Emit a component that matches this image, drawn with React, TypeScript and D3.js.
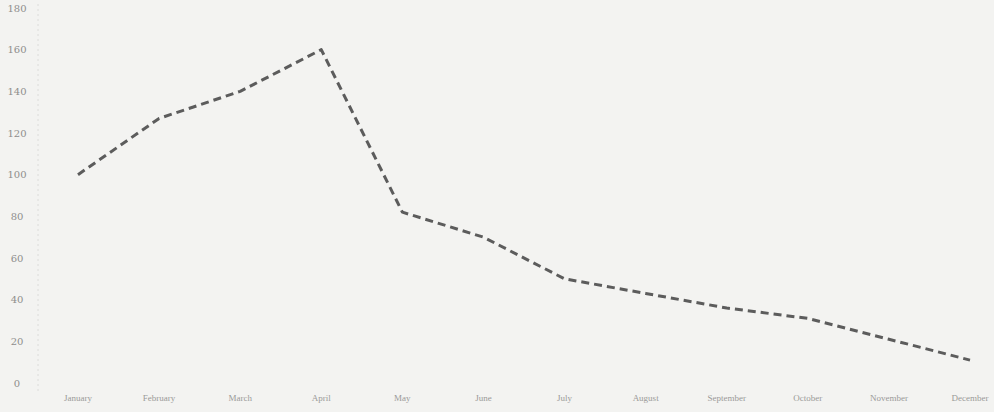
import { useEffect, useRef } from 'react';
import * as d3 from 'd3';

const months = [
  'January', 'February', 'March', 'April', 'May', 'June',
  'July', 'August', 'September', 'October', 'November', 'December',
];
const values = [100, 127, 140, 160, 82, 70, 50, 43, 36, 31, 21, 11];
const yTicks = [0, 20, 40, 60, 80, 100, 120, 140, 160, 180];

const width = 994;
const height = 412;

export default function App() {
  const svgRef = useRef<SVGSVGElement>(null);

  useEffect(() => {
    if (!svgRef.current) return;
    const svg = d3.select(svgRef.current);
    svg.selectAll('*').remove();

    const x = d3.scalePoint<string>().domain(months).range([78, 970]);
    const y = d3.scaleLinear().domain([0, 180]).range([383, 8]);

    // paper background
    svg.append('rect')
      .attr('width', width)
      .attr('height', height)
      .attr('fill', '#f3f3f1');

    // faint y axis
    svg.append('line')
      .attr('x1', 38).attr('x2', 38)
      .attr('y1', 4).attr('y2', 392)
      .attr('stroke', '#dcdcda')
      .attr('stroke-width', 1)
      .attr('stroke-dasharray', '2,3');

    // y tick labels
    svg.append('g')
      .selectAll('text')
      .data(yTicks)
      .join('text')
      .attr('x', 17)
      .attr('y', d => y(d))
      .attr('dy', '0.35em')
      .attr('text-anchor', 'middle')
      .style('font-family', '"DejaVu Serif", "Liberation Serif", serif')
      .style('font-size', '10px')
      .style('fill', '#8e8e8c')
      .text(d => d);

    // x tick labels
    svg.append('g')
      .selectAll('text')
      .data(months)
      .join('text')
      .attr('x', d => x(d) ?? 0)
      .attr('y', 401)
      .attr('text-anchor', 'middle')
      .style('font-family', '"Liberation Serif", serif')
      .style('font-size', '9px')
      .style('fill', '#9a9a98')
      .text(d => d);

    const line = d3.line<number>()
      .x((_, i) => x(months[i]) ?? 0)
      .y(d => y(d));

    svg.append('path')
      .datum(values)
      .attr('fill', 'none')
      .attr('stroke', '#5c5c5c')
      .attr('stroke-width', 3)
      .attr('stroke-dasharray', '8,5')
      .attr('stroke-linejoin', 'round')
      .attr('d', line);
  }, []);

  return (
    <svg
      ref={svgRef}
      width={width}
      height={height}
      style={{ position: 'absolute', left: 0, top: 0, display: 'block' }}
    />
  );
}
